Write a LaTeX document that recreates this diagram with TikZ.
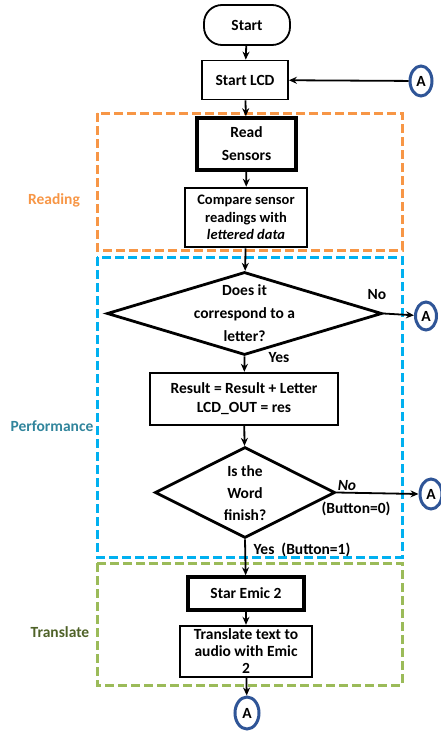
\documentclass[tikz,border=0pt]{standalone}
\usepackage{fontspec}
\setmainfont{Carlito}
\usetikzlibrary{shapes.geometric,arrows.meta}
\definecolor{orng}{HTML}{F79646}
\definecolor{blu}{HTML}{00B0F0}
\definecolor{grn}{HTML}{9BBB59}
\definecolor{cdark}{HTML}{2F5597}
\definecolor{perfc}{HTML}{31859C}
\definecolor{transc}{HTML}{4F6228}
\begin{document}
\begin{tikzpicture}[x=1pt,y=-1pt,
  font=\fontsize{15.5}{17}\selectfont\bfseries,
  box/.style={draw, fill=white, line width=2pt, align=center, inner sep=0pt},
  thickbox/.style={box, line width=3.5pt},
  dia/.style={diamond, draw, fill=white, line width=2.8pt, inner sep=0pt},
  arr/.style={-{Stealth[length=8pt,width=7pt]}, line width=1.8pt},
  conn/.style={ellipse, draw=cdark, line width=3pt, inner sep=0pt, minimum width=22pt, minimum height=30pt},
  zone/.style={dash pattern=on 9pt off 4pt, line width=3pt},
  lbl/.style={font=\fontsize{15.5}{17}\selectfont\bfseries}]
\useasboundingbox (0,0) rectangle (441,731);
% zones
\draw[zone, orng] (97,113) rectangle (402,250);
\draw[zone, blu] (97,257) rectangle (402,557);
\draw[zone, grn] (97,563) rectangle (402,685);
\node[lbl, text=orng] (lread) at (54,200) {Reading};
\node[lbl, text=perfc] (lperf) at (52,426) {Performance};
\node[lbl, text=transc] (ltrans) at (60,632) {Translate};
% nodes
\node[box, line width=1.8pt, rounded corners=18pt, minimum width=86pt, minimum height=40pt] (start) at (247,25) {Start};
\node[box, line width=1.8pt, minimum width=86pt, minimum height=39pt] (lcd) at (245,80) {Start LCD};
\node[conn] (a1) at (421,81) {A};
\node[thickbox, minimum width=99pt, minimum height=52pt] (read) at (246.5,144) {Read\\[6pt]Sensors};
\node[box, line width=2.6pt, minimum width=122pt, minimum height=59pt, font=\fontsize{14.5}{17.5}\selectfont\bfseries] (comp) at (246,217.5) {Compare sensor\\readings with\\\textit{lettered data}};
\node[dia, minimum width=275pt, minimum height=83pt] (d1) at (244.5,313.5) {};
\node[align=center] (d1t) at (244.5,313.5) {Does it\\[6pt]correspond to a\\[6pt]letter?};
\node[conn, minimum width=21pt, minimum height=28pt] (a2) at (426,316) {A};
\node[box, line width=2.4pt, minimum width=188pt, minimum height=52pt] (res) at (244,399) {Result = Result + Letter\\[2pt]LCD\_OUT = res};
\node[dia, minimum width=180pt, minimum height=91pt] (d2) at (245,492.5) {};
\node[align=center] (d2t) at (245,493) {Is the\\[5pt]Word\\[5pt]finish?};
\node[conn] (a3) at (431,494) {A};
\node[thickbox, minimum width=116pt, minimum height=33pt] (star) at (246,593.5) {Star Emic 2};
\node[box, line width=2.4pt, minimum width=132pt, minimum height=51pt] (trans) at (246,651.5) {Translate text to\\audio with Emic\\2};
\node[conn, minimum width=24pt, minimum height=32pt] (a4) at (247,713) {A};
% labels
\node[lbl] (no1) at (377,295) {No};
\node[lbl] (yes1) at (279,358) {Yes};
\node[lbl, font=\fontsize{15.5}{17}\selectfont\bfseries\itshape] (no2) at (347,486) {No};
\node[lbl] (b0) at (356,509) {(Button=0)};
\node[lbl] (yes2) at (302,550) {Yes~~(Button=1)};
% connectors
\draw[arr] (start) -- (lcd);
\draw[arr] (a1) -- (lcd);
\draw[arr] (lcd) -- (read);
\draw[arr] (read) -- (comp);
\draw[arr] (comp) -- (d1);
\draw[arr] (d1.east) -- (a2);
\draw[arr] (d1.south) -- (res);
\draw[arr] (res) -- (d2);
\draw[arr] (d2.east) -- (a3.west);
\draw[arr] (d2.south) -- (star);
\draw[arr] (star) -- (trans);
\draw[arr] (trans) -- (a4);
\end{tikzpicture}
\end{document}
